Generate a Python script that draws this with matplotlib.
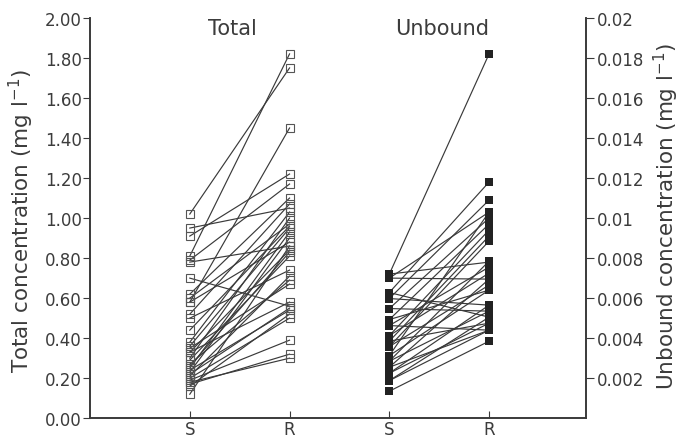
import matplotlib.pyplot as plt
import numpy as np

plt.rcParams['font.family'] = ['DejaVu Sans']

# Total concentration (mg/l), S vs R, one pair per patient
total_S = [1.02, 0.95, 0.91, 0.81, 0.79, 0.78, 0.70, 0.62, 0.60, 0.58, 0.58, 0.52,
           0.50, 0.44, 0.38, 0.36, 0.33, 0.33, 0.30, 0.29, 0.27, 0.25, 0.24, 0.23,
           0.22, 0.21, 0.20, 0.19, 0.18, 0.17, 0.16, 0.12, 0.35, 0.26]
total_R = [1.75, 1.05, 1.22, 1.82, 1.17, 0.86, 0.56, 1.10, 0.97, 1.45, 0.88, 1.07,
           0.74, 0.96, 1.03, 0.95, 0.84, 0.58, 1.00, 0.81, 0.69, 0.93, 0.54, 0.90,
           0.55, 0.71, 0.50, 0.39, 0.30, 0.32, 0.52, 0.86, 0.67, 0.83]

# Unbound concentration (mg/l)
unb_S = [0.0072, 0.0072, 0.0070, 0.0070, 0.00628, 0.00628, 0.00598, 0.00598,
         0.00548, 0.00548, 0.00493, 0.00493, 0.00463, 0.00463, 0.00413, 0.00413,
         0.00385, 0.00385, 0.00358, 0.00358, 0.00313, 0.00313, 0.00285, 0.00285,
         0.00255, 0.00255, 0.00225, 0.00225, 0.00188, 0.00188, 0.00135]
unb_R = [0.0182, 0.0078, 0.0103, 0.00695, 0.0118, 0.00505, 0.0109, 0.00565,
         0.0100, 0.00535, 0.0097, 0.0064, 0.00755, 0.0044, 0.0094, 0.00725,
         0.0091, 0.00475, 0.00885, 0.00665, 0.0103, 0.0064, 0.00785, 0.00535,
         0.00695, 0.0044, 0.00565, 0.00475, 0.00505, 0.0044, 0.00385]

x_pos = [1, 2, 3, 4]
x_labels = ['S', 'R', 'S', 'R']
left_ticks = np.arange(0, 2.01, 0.2)
right_ticks = [0.002, 0.004, 0.006, 0.008, 0.01, 0.012, 0.014, 0.016, 0.018, 0.02]
right_labels = ['0.002', '0.004', '0.006', '0.008', '0.01', '0.012', '0.014', '0.016', '0.018', '0.02']

line_col = '#3a3a3a'
text_col = '#3c3c3c'

fig = plt.figure(figsize=(6.82, 4.39), dpi=100)
ax = fig.add_axes([0.132, 0.045, 0.727, 0.912])
ax2 = ax.twinx()

# Total - open squares
for s, r in zip(total_S, total_R):
    ax.plot([1, 2], [s, r], color=line_col, lw=0.85, zorder=2)
ax.plot([1] * len(total_S), total_S, 's', ms=5.8, mfc='none', mec='#555555', mew=0.8, zorder=3)
ax.plot([2] * len(total_R), total_R, 's', ms=5.8, mfc='none', mec='#555555', mew=0.8, zorder=3)

# Unbound - filled squares
for s, r in zip(unb_S, unb_R):
    ax2.plot([3, 4], [s, r], color=line_col, lw=0.85, zorder=2)
ax2.plot([3] * len(unb_S), unb_S, 's', ms=6, color='#222222', mew=0, zorder=3)
ax2.plot([4] * len(unb_R), unb_R, 's', ms=6, color='#222222', mew=0, zorder=3)

ax.set_xlim(0, 4.97)
ax.set_ylim(0, 2.0)
ax2.set_ylim(0, 0.02)

ax.set_xticks(x_pos)
ax.set_xticklabels(x_labels, fontsize=12, color=text_col)
ax.tick_params(axis='x', direction='in', length=5, pad=1, color=line_col)
ax.set_yticks(left_ticks)
ax.set_yticklabels(['%.2f' % v for v in left_ticks], fontsize=12, color=text_col)
ax.tick_params(axis='y', direction='out', length=5, pad=1, color=line_col)
ax2.set_yticks(right_ticks)
ax2.set_yticklabels(right_labels, fontsize=12, color=text_col)
ax2.tick_params(axis='y', direction='out', length=6, pad=2, color=line_col)

for a in (ax, ax2):
    a.spines['top'].set_visible(False)
    for sp in ('left', 'right', 'bottom'):
        a.spines[sp].set_color(line_col)
        a.spines[sp].set_linewidth(1.2)

ax.set_ylabel('Total concentration (mg l$^{-1}$)', fontsize=15.5, color=text_col)
ax.yaxis.set_label_coords(-0.109, 0.495)
ax2.set_ylabel('Unbound concentration (mg l$^{-1}$)', fontsize=15.5, color=text_col)
ax2.yaxis.set_label_coords(1.133, 0.507)

ax.text(1.43, 1.95, 'Total', fontsize=15, ha='center', va='center', color=text_col)
ax.text(3.53, 1.95, 'Unbound', fontsize=15, ha='center', va='center', color=text_col)

fig.savefig('out.png', dpi=100)
